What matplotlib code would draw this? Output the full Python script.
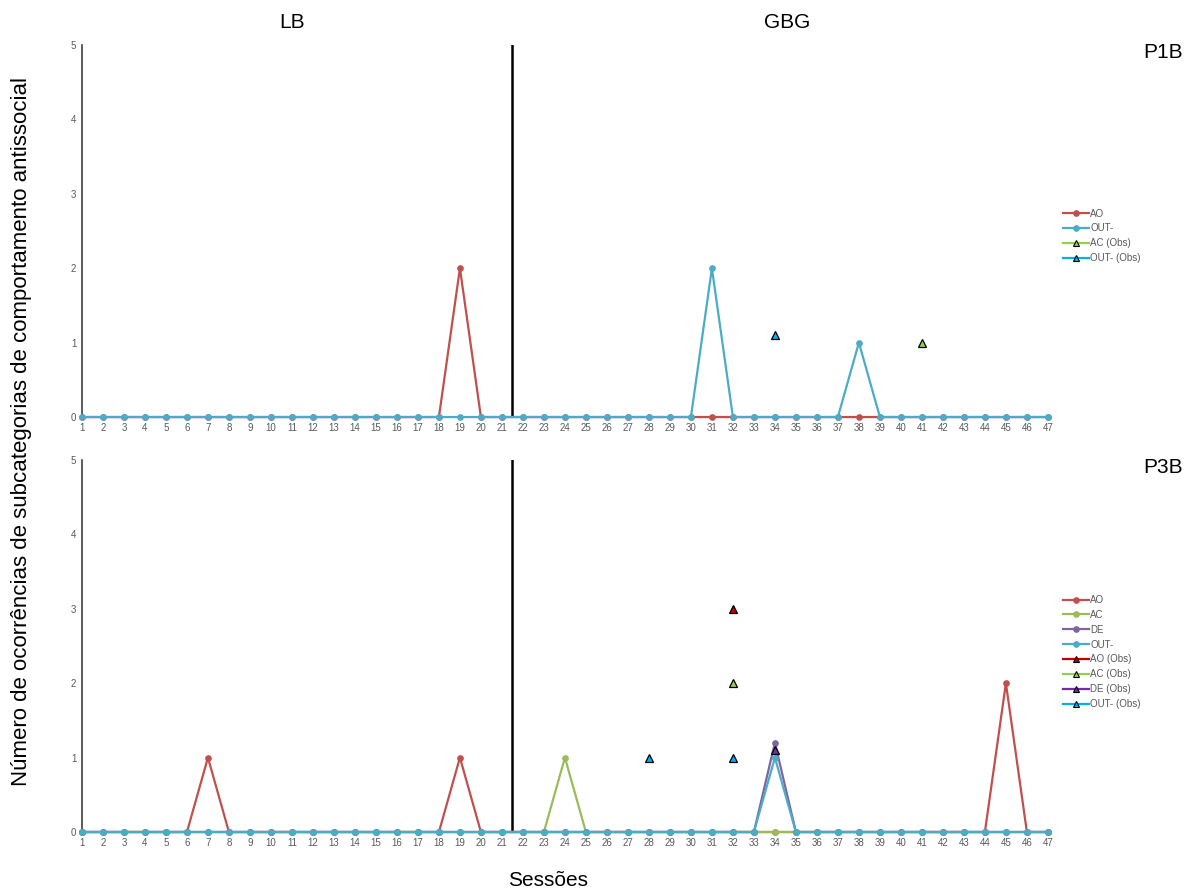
import numpy as np
import matplotlib.pyplot as plt

plt.rcParams['font.family'] = ['Liberation Sans', 'DejaVu Sans']

sessions = np.arange(1, 48)
phase_change = 21.5

# P1B
p1_ao = np.zeros(47)
p1_ao[19 - 1] = 2
p1_out = np.zeros(47)
p1_out[31 - 1] = 2
p1_out[38 - 1] = 1
p1_ac_obs_x, p1_ac_obs_y = [41], [1.0]
p1_out_obs_x, p1_out_obs_y = [34], [1.1]

# P3B
p3_ao = np.zeros(47)
p3_ao[7 - 1] = 1
p3_ao[19 - 1] = 1
p3_ao[45 - 1] = 2
p3_ac = np.zeros(47)
p3_ac[24 - 1] = 1
p3_de = np.zeros(47)
p3_de[34 - 1] = 1.2
p3_out = np.zeros(47)
p3_out[34 - 1] = 1.0
p3_ao_obs_x, p3_ao_obs_y = [32], [3]
p3_ac_obs_x, p3_ac_obs_y = [32], [2]
p3_de_obs_x, p3_de_obs_y = [34], [1.1]
p3_out_obs_x, p3_out_obs_y = [28, 32], [1, 1]

c_ao, c_ac, c_de, c_out = '#C0504D', '#9BBB59', '#8064A2', '#4BACC6'
c_ao_obs, c_ac_obs, c_de_obs, c_out_obs = '#C00000', '#92D050', '#7030A0', '#00B0F0'


def series(ax, y, color, label):
    ax.plot(sessions, y, color=color, lw=1.6, marker='o', ms=3.8,
            label=label, clip_on=False, zorder=3)


def obs(ax, x, y, color, label):
    ax.plot(x, y, color=color, lw=0, marker='^', ms=6.2, mfc=color,
            mec='black', mew=0.9, label=label, clip_on=False, zorder=5)


def style(ax, name, leg_y):
    ax.set_xlim(1, 47)
    ax.set_ylim(0, 5)
    ax.set_xticks(sessions)
    ax.set_yticks(range(6))
    ax.tick_params(length=0, labelsize=7, colors='#595959', pad=4)
    for s in ('top', 'right'):
        ax.spines[s].set_visible(False)
    ax.spines['left'].set_color('#404040')
    ax.spines['left'].set_linewidth(1.2)
    ax.spines['bottom'].set_color('#BFBFBF')
    ax.axvline(phase_change, color='black', lw=1.8, zorder=2)
    ax.text(1.119, 0.981, name, transform=ax.transAxes, fontsize=15,
            ha='center', va='center')
    leg = ax.legend(loc='center left', bbox_to_anchor=(1.012, leg_y),
                    frameon=False, fontsize=7, handlelength=2.6,
                    handletextpad=0.15, labelspacing=0.5, borderaxespad=0)
    for t in leg.get_texts():
        t.set_color('#595959')
    # observation entries get a line and a smaller triangle
    for h in leg.legend_handles:
        if h.get_marker() == '^':
            h.set_linewidth(1.6)
            h.set_markersize(4.5)
            h.set_markeredgewidth(0.8)


fig = plt.figure(figsize=(11.98, 8.93), dpi=100)
ax1 = fig.add_axes([0.0684, 0.533, 0.8063, 0.4166])
ax2 = fig.add_axes([0.0684, 0.0683, 0.8063, 0.4166])

series(ax1, p1_ao, c_ao, 'AO')
series(ax1, p1_out, c_out, 'OUT-')
obs(ax1, p1_ac_obs_x, p1_ac_obs_y, c_ac_obs, 'AC (Obs)')
obs(ax1, p1_out_obs_x, p1_out_obs_y, c_out_obs, 'OUT- (Obs)')
style(ax1, 'P1B', 0.487)

series(ax2, p3_ao, c_ao, 'AO')
series(ax2, p3_ac, c_ac, 'AC')
series(ax2, p3_de, c_de, 'DE')
series(ax2, p3_out, c_out, 'OUT-')
obs(ax2, p3_ao_obs_x, p3_ao_obs_y, c_ao_obs, 'AO (Obs)')
obs(ax2, p3_ac_obs_x, p3_ac_obs_y, c_ac_obs, 'AC (Obs)')
obs(ax2, p3_de_obs_x, p3_de_obs_y, c_de_obs, 'DE (Obs)')
obs(ax2, p3_out_obs_x, p3_out_obs_y, c_out_obs, 'OUT- (Obs)')
style(ax2, 'P3B', 0.484)

fig.text(292 / 1198, 1 - 22 / 893, 'LB', fontsize=15, ha='center', va='center')
fig.text(787 / 1198, 1 - 22 / 893, 'GBG', fontsize=15, ha='center', va='center')
fig.text(548 / 1198, 1 - 880 / 893, 'Sessões', fontsize=15, ha='center', va='center')
fig.text(22 / 1198, 1 - 432 / 893,
         'Número de ocorrências de subcategorias de comportamento antissocial',
         fontsize=16, rotation=90, ha='center', va='center')

fig.savefig('out.png', dpi=100, facecolor='white')
